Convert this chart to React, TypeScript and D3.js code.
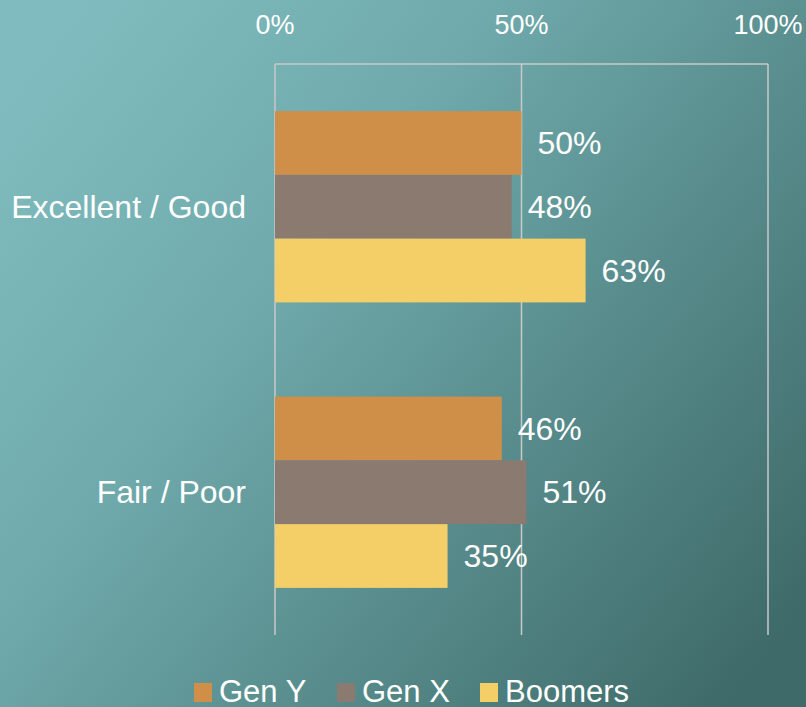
import React from "react";
import * as d3 from "d3";

const categories = ["Excellent / Good", "Fair / Poor"];
const seriesNames = ["Gen Y", "Gen X", "Boomers"];
const genY = [50, 46];
const genX = [48, 51];
const boomers = [63, 35];
const tickValues = [0, 50, 100];
const colors = ["#D08F49", "#8A7A70", "#F4CE67"];

const W = 806;
const H = 707;
const FONT = "Arial, 'Liberation Sans', sans-serif";

export default function App() {
  const series = [genY, genX, boomers];
  const x = d3.scaleLinear().domain([0, 100]).range([275, 768]);
  const y = d3.scaleBand<string>().domain(categories).range([64, 635]).paddingInner(0.33).paddingOuter(0.165);
  const inner = d3.scaleBand<string>().domain(seriesNames).range([0, y.bandwidth()]);
  const legendX = [194, 337, 480];

  return (
    <svg width={W} height={H} style={{ position: "fixed", left: 0, top: 0 }} fontFamily={FONT}>
      <defs>
        <linearGradient id="bg" x1="0" y1="0.15" x2="1" y2="0.85">
          <stop offset="0" stopColor="#80bcbf" />
          <stop offset="0.35" stopColor="#6fa9ab" />
          <stop offset="1" stopColor="#3e6b69" />
        </linearGradient>
      </defs>
      <rect width={W} height={H} fill="url(#bg)" />
      <line x1={x(0)} x2={x(100)} y1={64} y2={64} stroke="#c9c9c9" strokeWidth={1.5} />
      {tickValues.map((t) => (
        <g key={t}>
          <line x1={x(t)} x2={x(t)} y1={64} y2={635} stroke="#c9c9c9" strokeWidth={1.5} />
          <text x={x(t)} y={34} textAnchor="middle" fontSize={27} fill="#ffffff">
            {t}%
          </text>
        </g>
      ))}
      {categories.map((c, ci) => (
        <g key={c}>
          <text
            x={246}
            y={(y(c) ?? 0) + y.bandwidth() / 2}
            dy="0.35em"
            textAnchor="end"
            fontSize={32}
            fill="#ffffff"
          >
            {c}
          </text>
          {series.map((s, si) => {
            const by = (y(c) ?? 0) + (inner(seriesNames[si]) ?? 0);
            return (
              <g key={si}>
                <rect
                  x={x(0)}
                  y={by}
                  width={x(s[ci]) - x(0)}
                  height={inner.bandwidth()}
                  fill={colors[si]}
                />
                <text
                  x={x(s[ci]) + 16}
                  y={by + inner.bandwidth() / 2}
                  dy="0.35em"
                  fontSize={32}
                  fill="#ffffff"
                >
                  {s[ci]}%
                </text>
              </g>
            );
          })}
        </g>
      ))}
      {seriesNames.map((n, i) => (
        <g key={n}>
          <rect x={legendX[i]} y={683} width={18} height={19} fill={colors[i]} />
          <text x={legendX[i] + 25} y={702} fontSize={31} fill="#ffffff">
            {n}
          </text>
        </g>
      ))}
    </svg>
  );
}
